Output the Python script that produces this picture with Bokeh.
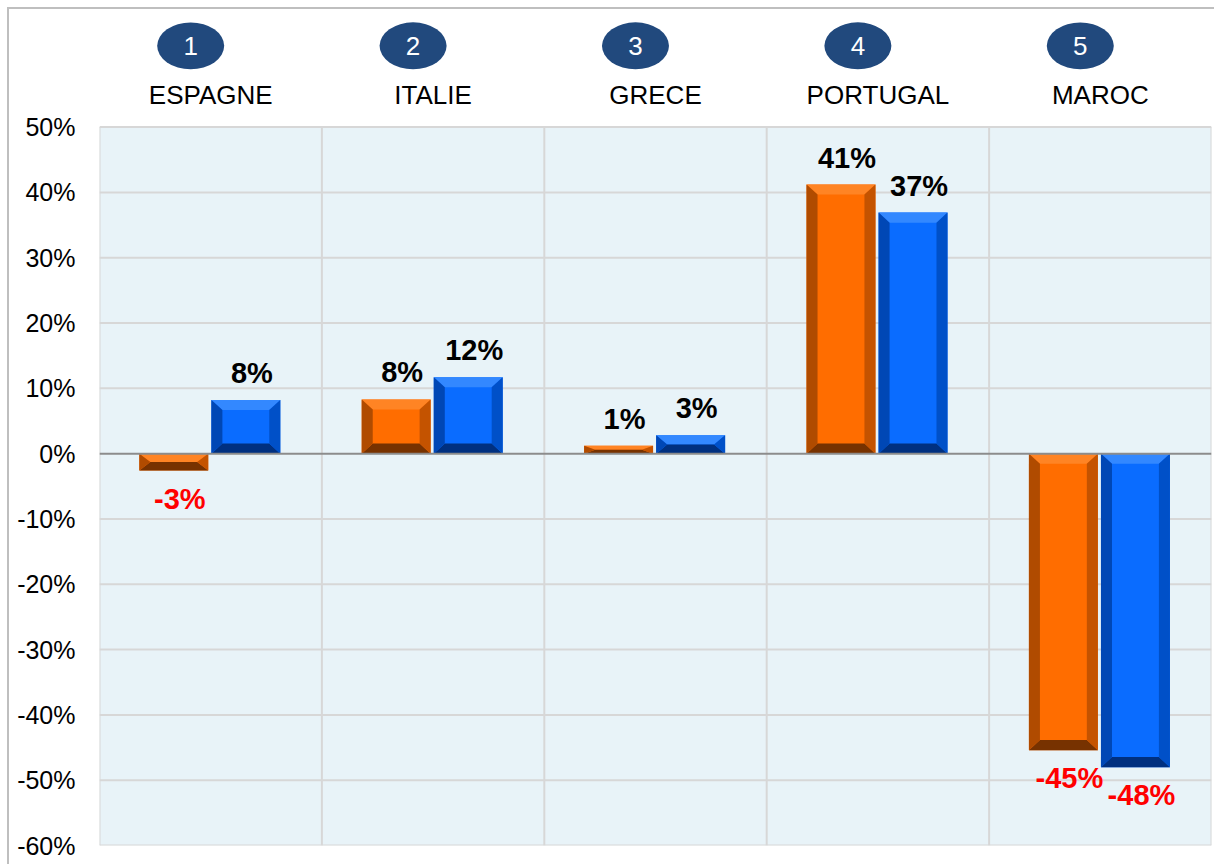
from bokeh.plotting import figure
from bokeh.models import FixedTicker, PrintfTickFormatter, Range1d
from bokeh.embed import file_html
from bokeh.resources import INLINE
from bokeh.core.properties import value

# ---- data ----
countries = ["ESPAGNE", "ITALIE", "GRECE", "PORTUGAL", "MAROC"]
ranks = ["1", "2", "3", "4", "5"]
series_orange = [-2.6, 8.3, 1.2, 41.2, -45.4]
series_blue = [8.2, 11.7, 2.8, 36.9, -48.0]
y_ticks = [-60, -50, -40, -30, -20, -10, 0, 10, 20, 30, 40, 50]

FONT = "Liberation Sans"
W, H = 1207, 857
BORDER = 2
ML, MR, MT, MB = 90, 5, 0, 21
Y0, Y1 = -60, 68.0
X0, X1 = 0, len(countries)
PX_X = (W - BORDER - ML - MR) / (X1 - X0)
PX_Y = (H - BORDER - MT - MB) / (Y1 - Y0)

p = figure(width=W, height=H, x_range=Range1d(X0, X1), y_range=Range1d(Y0, Y1),
           output_backend="svg", toolbar_location=None, x_axis_type=None,
           min_border_left=ML, min_border_right=MR, min_border_top=MT, min_border_bottom=MB)
p.styles = {"margin-left": "7px", "margin-top": "7px",
            "border-left": f"{BORDER}px solid #BFBFBF", "border-top": f"{BORDER}px solid #BFBFBF"}
p.xgrid.visible = False
p.ygrid.visible = False
p.outline_line_color = None
p.background_fill_color = "white"
p.border_fill_color = "white"

ax = p.yaxis[0]
ax.ticker = FixedTicker(ticks=y_ticks)
ax.formatter = PrintfTickFormatter(format="%d%%")
ax.axis_line_color = None
ax.major_tick_line_color = None
ax.minor_tick_line_color = None
ax.major_tick_out = 0
ax.major_label_standoff = 24
ax.major_label_text_font = FONT
ax.major_label_text_font_size = "25px"
ax.major_label_text_color = "black"

ymin, ymax = y_ticks[0], y_ticks[-1]
# plot background
p.quad(left=[X0], right=[X1], bottom=[ymin], top=[ymax], fill_color="#E8F3F8", line_color=None)
# gridlines
hy = [t for t in y_ticks if t != 0]
p.segment(x0=[X0] * len(hy), x1=[X1] * len(hy), y0=hy, y1=hy, line_color="#D7D7D7", line_width=2)
vx = list(range(X0, X1 + 1))
p.segment(x0=vx, x1=vx, y0=[ymin] * len(vx), y1=[ymax] * len(vx), line_color="#D7D7D7", line_width=2)

centers = [i + 0.5 for i in range(len(countries))]
BW = 0.31
series = [
    (series_orange, -0.166, dict(face="#FF6D00", top="#FF8424", left="#B04B00", right="#C45300", bottom="#773200")),
    (series_blue, 0.158, dict(face="#0A6CFF", top="#3388FF", left="#0047B5", right="#0050C8", bottom="#003080")),
]

dx = 11 / PX_X
for vals, off, col in series:
    xs = [c + off for c in centers]
    tops = [max(v, 0) for v in vals]
    bots = [min(v, 0) for v in vals]
    p.vbar(x=xs, width=BW, top=tops, bottom=bots, fill_color=col["face"], line_color=None)
    pxs, pys, pcs = [], [], []
    for x, t, b in zip(xs, tops, bots):
        x0, x1 = x - BW / 2, x + BW / 2
        dy = min(10 / PX_Y, (t - b) / 2)
        pxs.append([x0, x1, x1 - dx, x0 + dx]); pys.append([t, t, t - dy, t - dy]); pcs.append(col["top"])
        pxs.append([x0, x1, x1 - dx, x0 + dx]); pys.append([b, b, b + dy, b + dy]); pcs.append(col["bottom"])
        pxs.append([x0, x0, x0 + dx, x0 + dx]); pys.append([b, t, t - dy, b + dy]); pcs.append(col["left"])
        pxs.append([x1, x1, x1 - dx, x1 - dx]); pys.append([b, t, t - dy, b + dy]); pcs.append(col["right"])
    p.patches(xs=pxs, ys=pys, fill_color=pcs, line_color=None)
    pos = [(x, v) for x, v in zip(xs, vals) if v >= 0]
    neg = [(x, v) for x, v in zip(xs, vals) if v < 0]
    if pos:
        p.text(x=[a for a, _ in pos], y=[b for _, b in pos], text=[f"{round(b)}%" for _, b in pos],
               x_offset=6, y_offset=-27, text_align="center", text_baseline="middle",
               text_font=value(FONT), text_font_style="bold", text_font_size="29px", text_color="black")
    if neg:
        p.text(x=[a for a, _ in neg], y=[b for _, b in neg], text=[f"{round(b)}%" for _, b in neg],
               x_offset=6, y_offset=28, text_align="center", text_baseline="middle",
               text_font=value(FONT), text_font_style="bold", text_font_size="29px", text_color="#FF0000")

# zero line
p.segment(x0=[X0], x1=[X1], y0=[0], y1=[0], line_color="#8C8C8C", line_width=2)

# header: numbered ellipses and country names
circ_y = ymax + (128 - 47) / PX_Y
name_y = ymax + (128 - 96) / PX_Y
cx = [c - 0.09 for c in centers]
p.ellipse(x=cx, y=[circ_y] * len(cx), width=67, height=47, width_units="screen", height_units="screen",
          fill_color="#21497D", line_color=None)
p.text(x=cx, y=[circ_y] * len(cx), text=ranks, text_align="center", text_baseline="middle",
       text_font=value(FONT), text_font_size="26px", text_color="white")
p.text(x=centers, y=[name_y] * len(centers), text=countries, text_align="center", text_baseline="middle",
       text_font=value(FONT), text_font_size="26px", text_color="black")

open("out.html", "w").write(file_html(p, INLINE))
